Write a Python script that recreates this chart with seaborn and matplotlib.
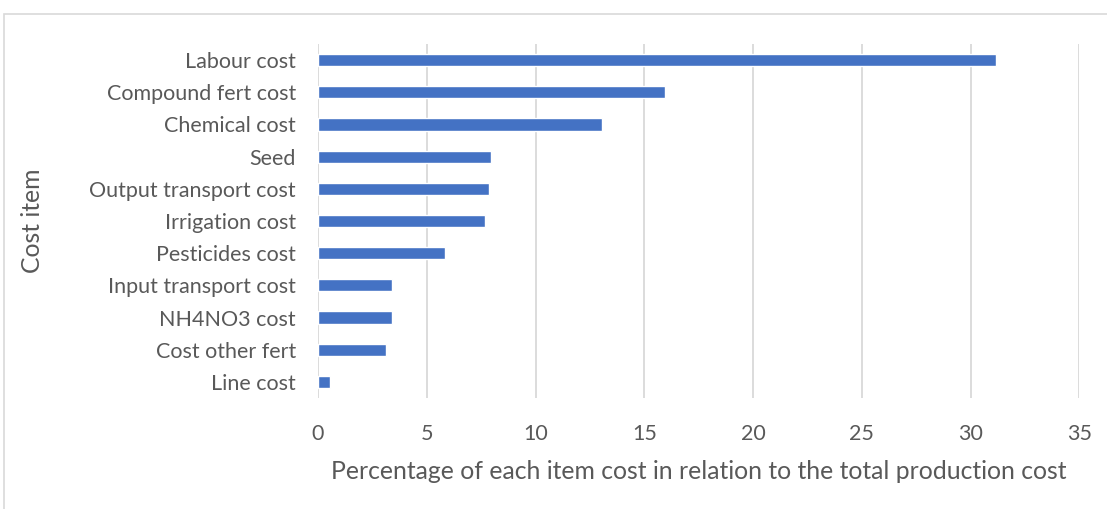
import pandas as pd
import seaborn as sns
import matplotlib.pyplot as plt
from matplotlib.patches import Rectangle

items = ['Labour cost', 'Compound fert cost', 'Chemical cost', 'Seed',
         'Output transport cost', 'Irrigation cost', 'Pesticides cost',
         'Input transport cost', 'NH4NO3 cost', 'Cost other fert', 'Line cost']
pct = [31.19, 15.93, 13.05, 7.94, 7.87, 7.67, 5.84, 3.42, 3.40, 3.11, 0.55]
xticks = [0, 5, 10, 15, 20, 25, 30, 35]

sns.set_style('white')
plt.rcParams['font.family'] = ['Lato', 'DejaVu Sans']
grey = '#595959'

d = pd.DataFrame({'item': items, 'pct': pct})
fig = plt.figure(figsize=(11.07, 5.09), dpi=100)
ax = fig.add_axes([0.2873, 0.218, 0.975 - 0.2873, 0.9136 - 0.218])
sns.barplot(data=d, x='pct', y='item', orient='h', color='#4472C4',
            saturation=1, width=0.38, ax=ax)

ax.set_xlim(0, 35)
ax.set_ylim(10.5, -0.5)
ax.set_xticks(xticks)
ax.set_xticklabels([str(t) for t in xticks], fontsize=15.5, color=grey)
ax.tick_params(axis='y', labelsize=15.5, labelcolor=grey, length=0, pad=16)
ax.tick_params(axis='x', length=0, pad=19)
ax.grid(axis='x', color='#d9d9d9', linewidth=1.3)
ax.set_axisbelow(True)
for s in ax.spines.values():
    s.set_visible(False)
ax.set_xlabel('Percentage of each item cost in relation to the total production cost',
              fontsize=17.8, color=grey, labelpad=11)
ax.set_ylabel('Cost item', fontsize=17.8, color=grey)
ax.yaxis.set_label_coords(-0.36, 0.5)

fig.patches.append(Rectangle((4 / 1107, -0.1), 1.2, 1 - 14 / 509 + 0.1,
                             transform=fig.transFigure, fill=False,
                             edgecolor='#d9d9d9', linewidth=1.2))
fig.savefig('out.png', dpi=100)
